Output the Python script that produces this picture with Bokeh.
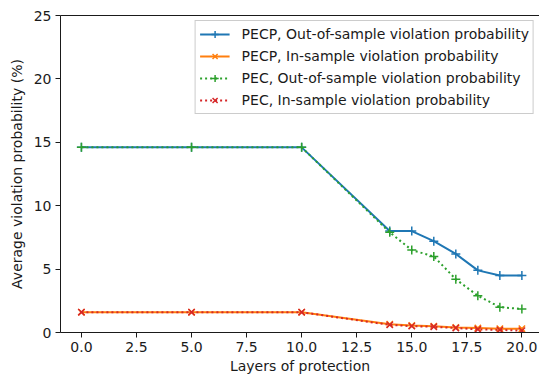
from bokeh.plotting import figure
from bokeh.embed import file_html
from bokeh.resources import INLINE
from bokeh.models import FixedTicker, NumeralTickFormatter, LinearAxis, Range1d, Legend, LegendItem

layers = [0, 5, 10, 14, 15, 16, 17, 18, 19, 20]
pecp_out = [14.6, 14.6, 14.6, 8.0, 8.0, 7.2, 6.2, 4.9, 4.5, 4.5]
pecp_in = [1.6, 1.6, 1.6, 0.65, 0.55, 0.5, 0.4, 0.35, 0.3, 0.3]
pec_out = [14.6, 14.6, 14.6, 7.9, 6.5, 6.0, 4.2, 2.9, 2.0, 1.85]
pec_in = [1.6, 1.6, 1.6, 0.6, 0.5, 0.45, 0.35, 0.25, 0.2, 0.15]
x_ticks = [0, 2.5, 5, 7.5, 10, 12.5, 15, 17.5, 20]
y_ticks = [0, 5, 10, 15, 20, 25]
labels = ["PECP, Out-of-sample violation probability",
          "PECP, In-sample violation probability",
          "PEC, Out-of-sample violation probability",
          "PEC, In-sample violation probability"]

FONT = "DejaVu Sans"
INK = "#1a1a1a"

p = figure(width=539, height=379, output_backend="svg", toolbar_location=None,
           x_range=Range1d(-0.95, 20.8), y_range=Range1d(0, 25),
           min_border_left=60, min_border_right=0, min_border_top=15, min_border_bottom=47)
p.outline_line_color = None
p.grid.visible = False
p.background_fill_color = "white"
p.border_fill_color = "white"

series = [
    (pecp_out, "#1f77b4", "solid", "cross"),
    (pecp_in, "#ff7f0e", "solid", "x"),
    (pec_out, "#2ca02c", "2 3", "cross"),
    (pec_in, "#d62728", "2 3", "x"),
]
items = []
for (ys, col, dash, mk), lab in zip(series, labels):
    r1 = p.line(layers, ys, line_color=col, line_width=2, line_dash=dash)
    r2 = p.scatter(layers, ys, marker=mk, size=9, line_color=col, line_width=1.5)
    items.append(LegendItem(label=lab, renderers=[r1, r2]))

legend = Legend(items=items, location="top_right")
legend.label_text_font = FONT
legend.label_text_font_size = "14px"
legend.label_text_color = INK
legend.glyph_width = 30
legend.glyph_height = 18
legend.label_height = 18
legend.label_standoff = 12
legend.spacing = 4
legend.padding = 4
legend.margin = 5
legend.border_line_color = "#cccccc"
legend.border_line_alpha = 1
legend.background_fill_alpha = 0.8
p.add_layout(legend, "center")

for ax in (p.xaxis[0], p.yaxis[0]):
    ax.major_tick_out = 5
    ax.major_tick_in = 0
    ax.minor_tick_line_color = None
    ax.major_label_text_font = FONT
    ax.major_label_text_font_size = "14px"
    ax.major_label_text_color = INK
    ax.axis_label_text_font = FONT
    ax.axis_label_text_font_size = "14px"
    ax.axis_label_text_font_style = "normal"
    ax.axis_label_text_color = INK
    ax.axis_line_color = INK
    ax.major_tick_line_color = INK

p.xaxis[0].ticker = FixedTicker(ticks=x_ticks)
p.xaxis[0].formatter = NumeralTickFormatter(format="0.0")
p.xaxis[0].axis_label = "Layers of protection"
p.xaxis[0].axis_label_standoff = 3
p.xaxis[0].major_label_standoff = 4
p.yaxis[0].ticker = FixedTicker(ticks=y_ticks)
p.yaxis[0].axis_label = "Average violation probability (%)"
p.yaxis[0].axis_label_standoff = 6
p.yaxis[0].major_label_standoff = 4

top = LinearAxis(major_tick_line_color=None, minor_tick_line_color=None,
                 major_label_text_font_size="0px", axis_line_color=INK)
top.ticker = FixedTicker(ticks=[])
p.add_layout(top, "above")

open("out.html", "w").write(file_html(p, INLINE))
